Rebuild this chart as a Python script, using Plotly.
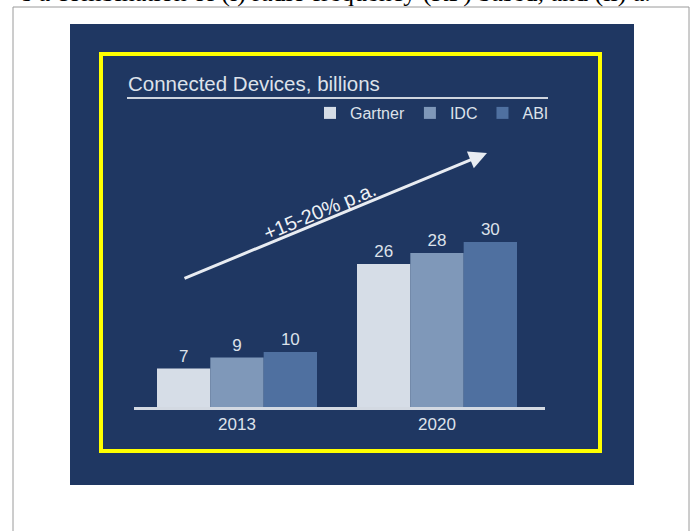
import plotly.graph_objects as go

# ---- data ----
years = ["2013", "2020"]
series_names = ["Gartner", "IDC", "ABI"]
gartner = [7, 26]
idc = [9, 28]
abi = [10, 30]
chart_title = "Connected Devices, billions"
growth_label = "+15-20% p.a."
header_text = "s a combination of (i) radio frequency (RF) based, and (ii) a."

# ---- layout helpers (pixel -> paper) ----
W, H = 694, 531


def px(x):
    return x / W


def py(y):
    return 1 - y / H


colors = ["#d6dde7", "#7f98b9", "#4f70a0"]
navy = "#1f3762"
light = "#dde2ea"
font_family = "Liberation Sans, Arial, Helvetica, sans-serif"

fig = go.Figure()
for name, vals, c in zip(series_names, [gartner, idc, abi], colors):
    fig.add_trace(go.Bar(
        x=years, y=vals, name=name,
        marker=dict(color=c, line=dict(width=0)),
        text=vals, textposition="outside",
        textfont=dict(color=light, size=17, family=font_family),
        cliponaxis=False,
    ))

plot_top, plot_bottom = 200, 407
px_per_unit = 5.5

fig.update_layout(
    width=W, height=H, autosize=False,
    margin=dict(l=0, r=0, t=0, b=0),
    paper_bgcolor="white", plot_bgcolor="rgba(0,0,0,0)",
    barmode="group", bargap=0.2, bargroupgap=0,
    font=dict(family=font_family, color=light),
    showlegend=True,
    legend=dict(
        orientation="h", x=px(554), xanchor="right", y=py(113), yanchor="middle",
        font=dict(size=16, color=light, family=font_family),
        bgcolor="rgba(0,0,0,0)", borderwidth=0, traceorder="normal",
    ),
    xaxis=dict(
        domain=[px(134), px(545)], range=[-0.515, 1.54],
        showline=True, linewidth=3, linecolor="#d3d9e2",
        showgrid=False, zeroline=False, ticks="",
        tickfont=dict(size=17, color=light, family=font_family),
    ),
    yaxis=dict(
        domain=[py(plot_bottom), py(plot_top)],
        range=[0, (plot_bottom - plot_top) / px_per_unit],
        visible=False, showgrid=False, zeroline=False,
    ),
    shapes=[
        dict(type="rect", xref="paper", yref="paper", x0=px(13), x1=px(689), y0=-0.05, y1=py(7),
             line=dict(color="#9a9a9a", width=1), fillcolor="white", layer="below"),
        dict(type="rect", xref="paper", yref="paper", x0=px(70), x1=px(634), y0=py(485), y1=py(24),
             line=dict(width=0), fillcolor=navy, layer="below"),
        dict(type="rect", xref="paper", yref="paper", x0=px(101), x1=px(600), y0=py(451), y1=py(54),
             line=dict(color="#ffff00", width=4), fillcolor="rgba(0,0,0,0)", layer="below"),
        dict(type="line", xref="paper", yref="paper", x0=px(127), x1=px(548), y0=py(98), y1=py(98),
             line=dict(color="#cfd5df", width=2)),
    ],
    annotations=[
        dict(text=chart_title, xref="paper", yref="paper", x=px(126), y=py(84),
             xanchor="left", yanchor="middle", showarrow=False,
             font=dict(size=20.5, color=light, family=font_family)),
        dict(text="", xref="paper", yref="paper", x=px(487), y=py(153),
             ax=-304, ay=126, showarrow=True, arrowhead=2, arrowsize=1.2,
             arrowwidth=3, arrowcolor="#e8ecf2"),
        dict(text=growth_label, xref="paper", yref="paper", x=px(320), y=py(211),
             xanchor="center", yanchor="middle", showarrow=False, textangle=-22.5,
             font=dict(size=20, color="#eef1f5", family=font_family)),
        dict(text=header_text, xref="paper", yref="paper", x=px(20), y=py(9),
             xanchor="left", yanchor="bottom", showarrow=False,
             font=dict(size=26, color="black", family="Liberation Serif, Times New Roman, serif")),
    ],
)

fig.write_html(
    "out.html",
    config={"displayModeBar": False},
    post_script="document.body.style.margin='0px';document.body.style.overflow='hidden';",
)
